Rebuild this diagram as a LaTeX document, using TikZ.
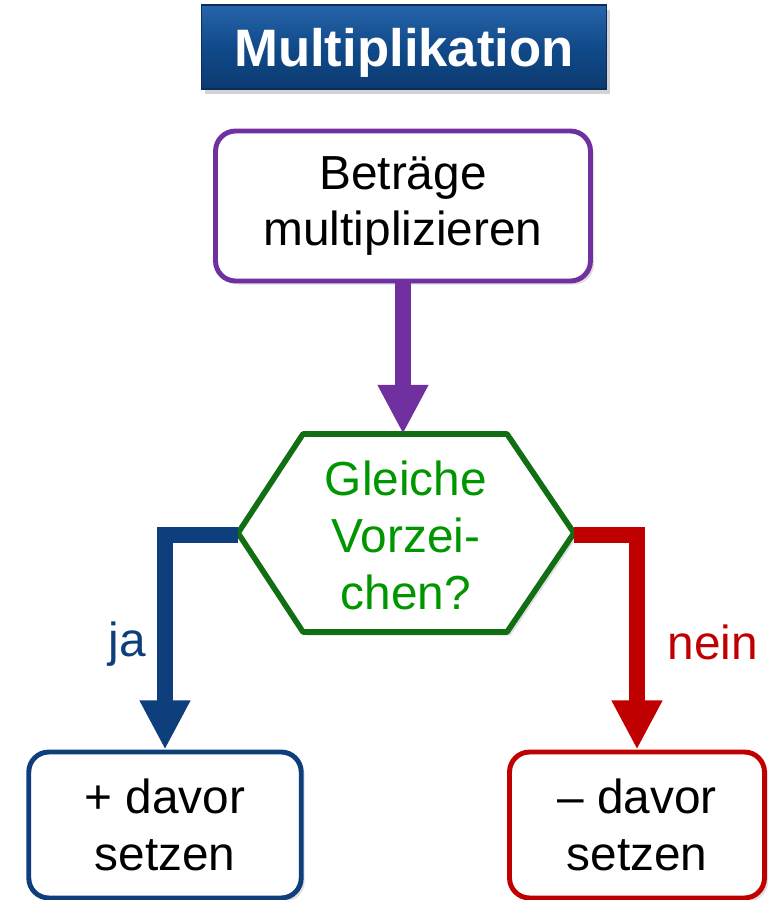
\documentclass[tikz,border=0pt]{standalone}
\usepackage{fontspec}
\setmainfont{Liberation Sans}
\usetikzlibrary{arrows.meta,shadows}
\definecolor{purp}{RGB}{112,48,160}
\definecolor{dblue}{RGB}{14,62,124}
\definecolor{dred}{RGB}{192,0,0}
\definecolor{gtext}{RGB}{0,150,0}
\definecolor{gline}{RGB}{18,110,18}
\definecolor{titletop}{RGB}{40,100,170}
\definecolor{titlemid}{RGB}{16,74,138}
\definecolor{titlebot}{RGB}{12,58,112}
\begin{document}
\begin{tikzpicture}[x=0.02cm,y=-0.02cm,
  txt/.style={font=\fontsize{27.2}{32.4}\selectfont, align=center, inner sep=0pt},
  box/.style={txt, draw, line width=2.8pt, fill=white, rounded corners=0.4cm,
    drop shadow={opacity=0.25, shadow xshift=2pt, shadow yshift=-2pt}},
  flow/.style={line width=9pt, line join=miter, -{Triangle[width=27pt,length=28pt]}},
  titlebox/.style={draw=titlebot!80!black, line width=0.6pt, top color=titletop, bottom color=titlebot,
    middle color=titlemid, text=white, font=\fontsize{30}{36}\selectfont\bfseries,
    minimum width=8.1cm, minimum height=1.68cm, inner sep=0pt, text depth=0pt,
    drop shadow={opacity=0.35, shadow xshift=2pt, shadow yshift=-3pt}},
]
\useasboundingbox (0,0) rectangle (768,900);

\node[titlebox] (title) at (404,47) {Multiplikation};

\node[box, draw=purp, minimum width=7.5cm, minimum height=3.0cm] (top) at (403,206) {\raisebox{-4pt}{\parbox{7cm}{\centering Beträge\\multiplizieren}}};

% hexagon
\coordinate (hexL) at (238,535);
\coordinate (hexR) at (574,535);
\coordinate (hexT) at (403,434);
\draw[line width=3.2pt, draw=gline, fill=white, line join=round,
  drop shadow={opacity=0.25, shadow xshift=2pt, shadow yshift=-2pt}]
  (238,533) -- (303,434) -- (507,434) -- (574,533) -- (507,632) -- (303,632) -- cycle;
\node[txt, text=gtext] (hex) at (406,535) {Gleiche\\Vorzei-\\chen?};

\node[box, draw=dblue, minimum width=5.45cm, minimum height=2.92cm] (bl) at (165,825) {+ davor\\setzen};
\node[box, draw=dred, minimum width=5.1cm, minimum height=2.92cm] (br) at (637,825) {– davor\\setzen};

\draw[flow, purp] (top.south) -- (hexT);
\draw[flow, dblue] (hexL) -| (bl.north);
\draw[flow, dred] (hexR) -| (br.north);

\node[txt, text=dblue] (ja) at (127,644) {ja};
\node[txt, text=dred] (nein) at (713,642) {nein};
\end{tikzpicture}
\end{document}
